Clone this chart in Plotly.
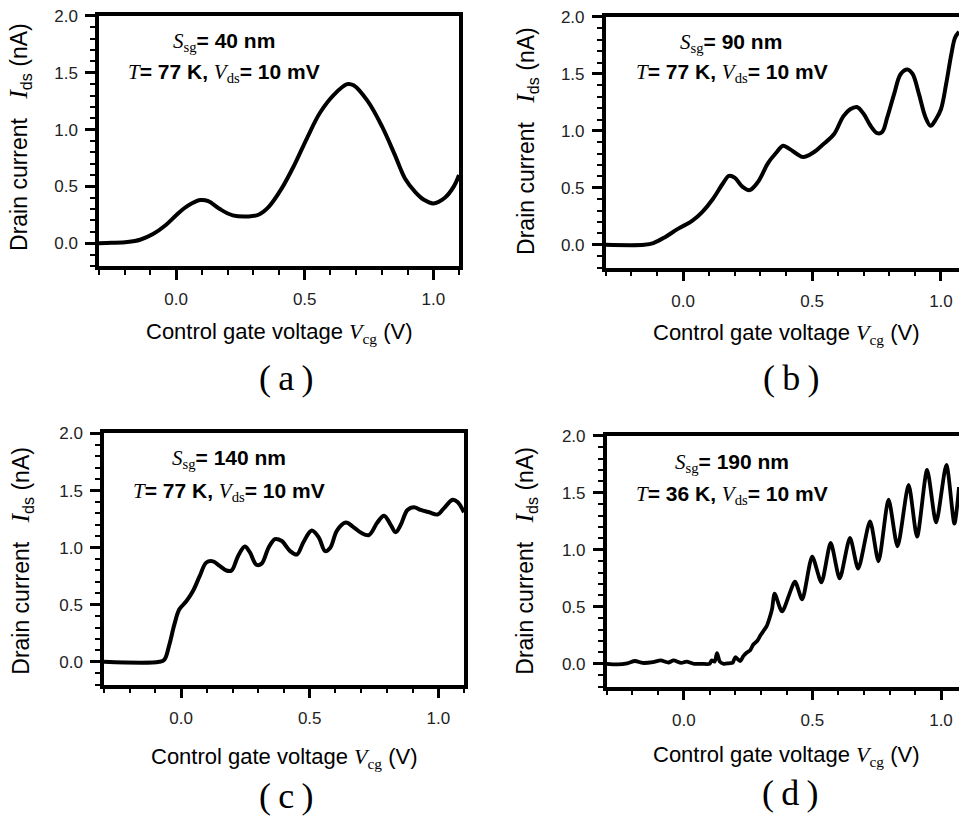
import plotly.graph_objects as go

# ---------------- data ----------------
# (a) S_sg = 40 nm
xa = [-0.30, -0.25, -0.19, -0.14, -0.09, -0.04, 0.0, 0.03, 0.06, 0.095, 0.125, 0.17, 0.22, 0.28, 0.32,
      0.36, 0.41, 0.46, 0.51, 0.56, 0.615, 0.665, 0.69, 0.745, 0.80, 0.85, 0.89, 0.93, 0.965,
      1.0, 1.045, 1.08, 1.10]
ya = [0.0, 0.003, 0.01, 0.03, 0.08, 0.16, 0.245, 0.305, 0.35, 0.38, 0.37, 0.30, 0.245, 0.235, 0.25,
      0.32, 0.48, 0.69, 0.93, 1.15, 1.31, 1.40, 1.39, 1.25, 1.03, 0.78, 0.57, 0.45, 0.38,
      0.35, 0.40, 0.50, 0.60]

# (b) S_sg = 90 nm
xb = [-0.30, -0.15, -0.115, -0.07, -0.02, 0.035, 0.075, 0.115, 0.155, 0.178, 0.20, 0.23, 0.258,
      0.29, 0.33, 0.362, 0.388, 0.414, 0.44, 0.466, 0.505, 0.545, 0.585, 0.622, 0.648, 0.674,
      0.70, 0.727, 0.753, 0.772, 0.792, 0.818, 0.844, 0.87, 0.89, 0.915, 0.94, 0.96, 0.98,
      1.0, 1.02, 1.04, 1.055, 1.07]
yb = [0.0, 0.0, 0.015, 0.067, 0.14, 0.21, 0.29, 0.40, 0.54, 0.605, 0.59, 0.51, 0.48,
      0.55, 0.72, 0.81, 0.87, 0.84, 0.80, 0.77, 0.81, 0.885, 0.97, 1.13, 1.19, 1.21,
      1.15, 1.045, 0.98, 0.99, 1.12, 1.32, 1.50, 1.54, 1.50, 1.32, 1.12, 1.045, 1.10,
      1.19, 1.41, 1.67, 1.82, 1.87]

# (c) S_sg = 140 nm
xc = [-0.30, -0.085, -0.065, -0.046, -0.026, -0.007, 0.02, 0.046, 0.072, 0.098, 0.124, 0.15,
      0.176, 0.196, 0.222, 0.248, 0.267, 0.293, 0.313, 0.34, 0.365, 0.39, 0.424, 0.45, 0.476,
      0.508, 0.535, 0.56, 0.58, 0.606, 0.64, 0.67, 0.70, 0.73, 0.763, 0.789, 0.815, 0.834,
      0.854, 0.88, 0.906, 0.932, 0.965, 0.997, 1.02, 1.056, 1.075, 1.10]
yc = [0.0, 0.0, 0.02, 0.15, 0.33, 0.46, 0.53, 0.62, 0.75, 0.87, 0.88, 0.84,
      0.80, 0.80, 0.93, 1.01, 0.96, 0.85, 0.86, 1.00, 1.075, 1.06, 0.97, 0.94, 1.05,
      1.15, 1.09, 0.97, 1.00, 1.15, 1.22, 1.18, 1.13, 1.11, 1.22, 1.28, 1.20, 1.135,
      1.20, 1.33, 1.355, 1.33, 1.31, 1.29, 1.34, 1.42, 1.40, 1.31]

# (d) S_sg = 190 nm
xd = [-0.30, -0.26, -0.22, -0.19, -0.16, -0.12, -0.09, -0.06, -0.04, -0.01, 0.01, 0.04, 0.07,
      0.10, 0.108, 0.12, 0.129, 0.14, 0.155, 0.175, 0.19, 0.20, 0.219, 0.232, 0.245, 0.258,
      0.27, 0.285, 0.298, 0.31, 0.322, 0.333, 0.343, 0.353,
      0.382, 0.432, 0.46, 0.499, 0.535, 0.571, 0.606, 0.646, 0.678, 0.724, 0.757, 0.796,
      0.831, 0.874, 0.907, 0.946, 0.981, 1.021, 1.052, 1.07]
yd = [0.0, -0.005, 0.005, 0.025, 0.008, 0.015, 0.03, 0.012, 0.03, 0.008, 0.02, 0.0, 0.0,
      0.0, 0.03, 0.02, 0.093, 0.02, 0.0, 0.005, 0.01, 0.058, 0.025, 0.07, 0.1, 0.12,
      0.17, 0.2, 0.25, 0.29, 0.33, 0.40, 0.48, 0.616,
      0.46, 0.72, 0.565, 0.94, 0.715, 1.06, 0.75, 1.105, 0.835, 1.25, 0.90, 1.44,
      1.03, 1.57, 1.115, 1.70, 1.24, 1.745, 1.23, 1.55]

panel_labels = ["(\u2009a\u2009)", "(\u2009b\u2009)", "(\u2009c\u2009)", "(\u2009d\u2009)"]
sg_values = ["40", "90", "140", "190"]
temps = ["77", "77", "77", "36"]

# ---------------- figure ----------------
W, H = 959, 819
SANS = "Liberation Sans, Arial, sans-serif"
SERIF = "Liberation Serif, Times New Roman, serif"

# small empirical correction between figure pixels and photographed pixels
YOFF, YSCALE = 8.0, 0.9895


def px(x):
    return min(1.0, x / W)


def py(y):
    return 1 - ((y - YOFF) / YSCALE) / H


def iser(s, size=None):
    sz = f"font-size:{size}px;" if size else ""
    return f"<i><span style='font-family:{SERIF};{sz}'>{s}</span></i>"


def ser(s):
    return f"<span style='font-family:{SERIF}'>{s}</span>"


# panel geometry (window pixels): left, right, top, bottom, xmax
panels = [
    dict(l=99, r=459, t=15, b=265, xmax=1.10, mirror_y=True),
    dict(l=605.7, r=959, t=16, b=266.7, xmax=1.07, mirror_y=False),
    dict(l=104, r=464, t=432.7, b=684, xmax=1.10, mirror_y=True),
    dict(l=606.7, r=959, t=435, b=686, xmax=1.07, mirror_y=False),
]
series = [(xa, ya), (xb, yb), (xc, yc), (xd, yd)]

fig = go.Figure()
layout = dict(
    width=W, height=H,
    margin=dict(l=0, r=0, t=0, b=0),
    paper_bgcolor="white", plot_bgcolor="white",
    showlegend=False,
    annotations=[],
)

for i, (p, (xs, ys)) in enumerate(zip(panels, series)):
    k = "" if i == 0 else str(i + 1)
    fig.add_trace(go.Scatter(
        x=xs, y=ys, mode="lines",
        line=dict(color="black", width=4 if i < 3 else 3.8, shape="spline",
                  smoothing=1.0 if i < 3 else 0.7),
        xaxis="x" + k, yaxis="y" + k, hoverinfo="skip",
    ))
    layout["xaxis" + k] = dict(
        domain=[px(p["l"]), px(p["r"])], range=[-0.3, p["xmax"]],
        anchor="y" + k, showgrid=False, zeroline=False,
        showline=True, linewidth=3.5, linecolor="black", mirror=True,
        ticks="outside", ticklen=10, tickwidth=3, tickcolor="black",
        tick0=0, dtick=0.5, tickformat=".1f",
        minor=dict(ticks="outside", ticklen=5, tickwidth=1.5, tickcolor="black",
                   dtick=0.1, tick0=0, showgrid=False),
        tickfont=dict(family=SANS, size=17, color="#222"),
        ticklabelstandoff=5,
    )
    layout["yaxis" + k] = dict(
        domain=[py(p["b"]), py(p["t"])], range=[-0.2, 2.0],
        anchor="x" + k, showgrid=False, zeroline=False,
        showline=True, linewidth=3.5, linecolor="black",
        mirror=p["mirror_y"],
        ticks="outside", ticklen=10, tickwidth=3, tickcolor="black",
        tick0=0, dtick=0.5, tickformat=".1f",
        minor=dict(ticks="outside", ticklen=5, tickwidth=1.5, tickcolor="black",
                   dtick=0.1, tick0=0, showgrid=False),
        tickfont=dict(family=SANS, size=17, color="#222"),
        ticklabelstandoff=4,
    )

ann = layout["annotations"]

# text positions (window pixels)
info_pos = [((224, 41), (224, 72)), ((731, 42), (732, 72)),
            ((229, 458), (229, 491)), ((732, 462), (732, 494))]
xtitle_pos = [(279, 332), (786, 333), (284, 757), (786, 755)]
ytitle_pos = [(20, 136), (527, 140), (22, 560), (526, 560)]
label_pos = [(286, 377), (791, 377), (286, 795), (790, 792)]

NB = "\u00a0"
for i in range(4):
    (x1, y1), (x2, y2) = info_pos[i]
    ann.append(dict(
        xref="paper", yref="paper", x=px(x1), y=py(y1), xanchor="center", yanchor="middle",
        showarrow=False, font=dict(family=SANS, size=21, color="black"),
        text=f"{iser('S')}<sub>{ser('sg')}</sub><b>= {sg_values[i]} nm</b>"))
    ann.append(dict(
        xref="paper", yref="paper", x=px(x2), y=py(y2), xanchor="center", yanchor="middle",
        showarrow=False, font=dict(family=SANS, size=21, color="black"),
        text=f"{iser('T')}<b>= {temps[i]} K, </b>{iser('V')}<sub>{ser('ds')}</sub><b>= 10 mV</b>"))
    xt, yt = xtitle_pos[i]
    ann.append(dict(
        xref="paper", yref="paper", x=px(xt), y=py(yt), xanchor="center", yanchor="middle",
        showarrow=False, font=dict(family=SANS, size=22, color="black"),
        text=f"Control gate voltage {iser('V')}<sub>{ser('cg')}</sub> (V)"))
    xy, yy = ytitle_pos[i]
    ann.append(dict(
        xref="paper", yref="paper", x=px(xy), y=py(yy), xanchor="center", yanchor="middle",
        showarrow=False, textangle=-90, font=dict(family=SANS, size=23, color="black"),
        text=f"Drain current{NB}{NB}{NB}{iser('I', 26)}<sub>ds</sub>{NB}(nA)"))
    xl, yl = label_pos[i]
    ann.append(dict(
        xref="paper", yref="paper", x=px(xl), y=py(yl), xanchor="center", yanchor="middle",
        showarrow=False, font=dict(family=SERIF, size=36, color="black"),
        text=panel_labels[i]))

fig.update_layout(**layout)
fig.write_html("out.html",
               config={"displayModeBar": False},
               post_script="document.body.style.margin='0px';document.body.style.overflow='hidden';")
